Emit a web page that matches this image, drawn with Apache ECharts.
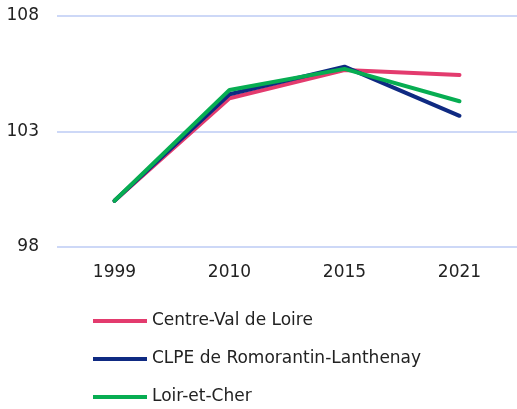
<!DOCTYPE html>
<html>
<head>
<meta charset="utf-8">
<script src="https://cdn.jsdelivr.net/npm/echarts@6/dist/echarts.min.js"></script>
<style>
  html, body { margin: 0; padding: 0; background: #fff; }
  #chart { width: 517px; height: 409px; }
</style>
</head>
<body>
<div id="chart"></div>
<script>
var years = ['1999', '2010', '2015', '2021'];
var centreVal = [100, 104.44, 105.66, 105.45];
var clpe = [100, 104.61, 105.81, 103.68];
var loirCher = [100, 104.80, 105.71, 104.31];

var font = '"DejaVu Sans", sans-serif';
var textColor = '#222';

function lineSeries(name, data, color) {
    return {
        name: name,
        type: 'line',
        data: data,
        symbol: 'none',
        color: color,
        lineStyle: { width: 4, color: color, cap: 'round' }
    };
}

var chart = echarts.init(document.getElementById('chart'));
chart.setOption({
    backgroundColor: '#fff',
    animation: false,
    textStyle: { fontFamily: font, color: textColor },
    grid: { left: 57, right: 0, top: 16, bottom: 162 },
    legend: {
        orient: 'vertical',
        left: 88,
        top: 306,
        height: 120,
        itemWidth: 54,
        itemHeight: 4,
        itemGap: 18,
        icon: 'rect',
        selectedMode: false,
        textStyle: { fontSize: 17, lineHeight: 20, color: textColor, fontFamily: font },
        data: ['Centre-Val de Loire', 'CLPE de Romorantin-Lanthenay', 'Loir-et-Cher']
    },
    xAxis: {
        type: 'category',
        data: years,
        boundaryGap: true,
        axisLine: { show: false },
        axisTick: { show: false },
        axisLabel: { fontSize: 17, color: textColor, margin: 17, fontFamily: font }
    },
    yAxis: {
        type: 'value',
        min: 98,
        max: 108,
        interval: 5,
        axisLine: { show: false },
        axisTick: { show: false },
        axisLabel: { fontSize: 17, color: textColor, margin: 18, fontFamily: font },
        splitLine: { lineStyle: { color: '#cdd8f7', width: 2 } }
    },
    series: [
        lineSeries('Centre-Val de Loire', centreVal, '#e33b6e'),
        lineSeries('CLPE de Romorantin-Lanthenay', clpe, '#0f2a82'),
        lineSeries('Loir-et-Cher', loirCher, '#07ad52')
    ]
});
</script>
</body>
</html>
